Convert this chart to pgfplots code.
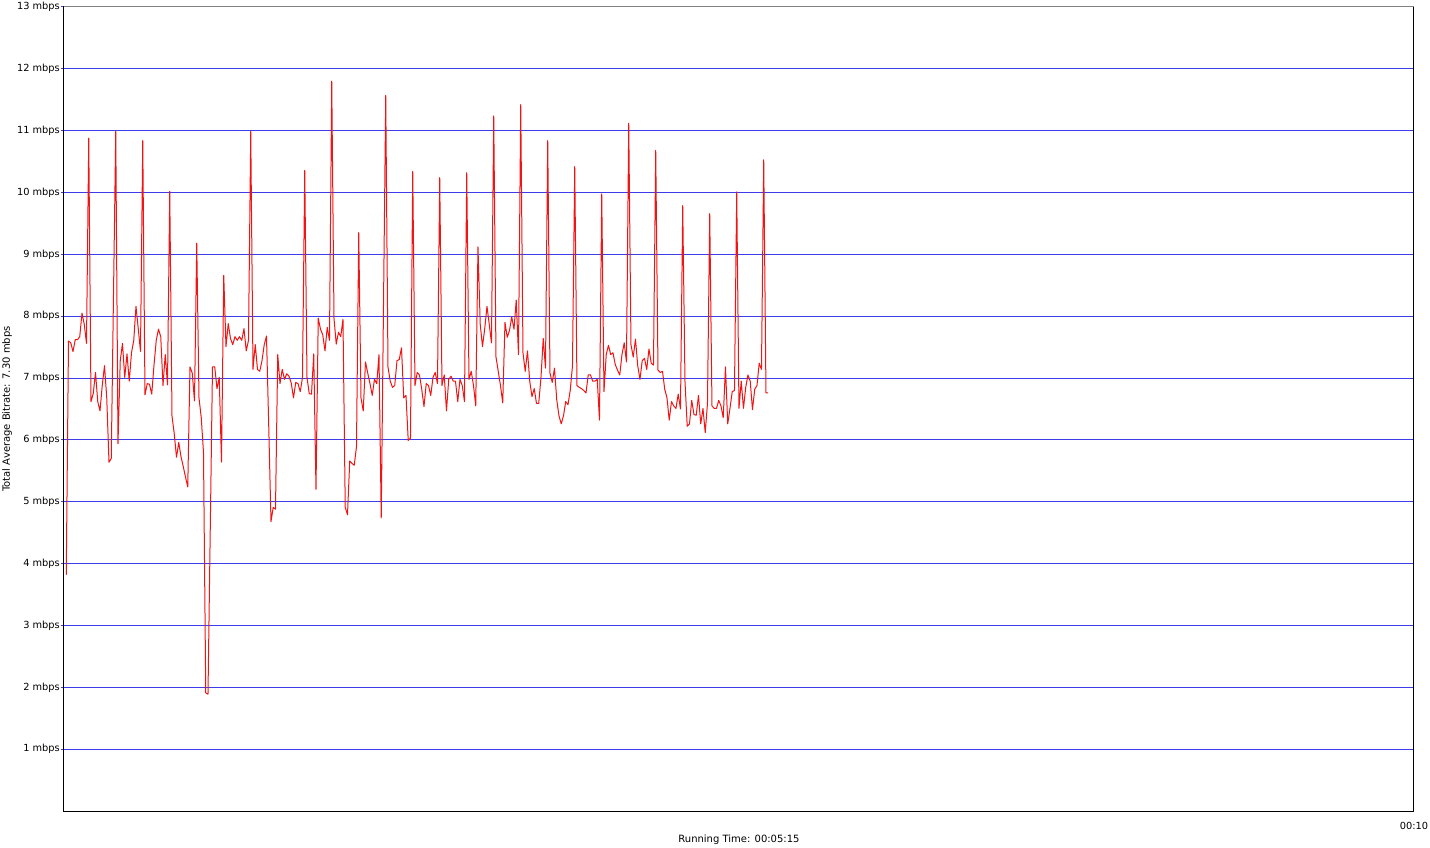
\documentclass[border=0pt]{standalone}
\usepackage{pgfplots}
\pgfplotsset{compat=1.18}
\usepackage{pgfplotstable}
\usepackage{fontspec}
\setmainfont{DejaVu Sans}
\definecolor{gridblue}{RGB}{60,60,235}
\definecolor{linered}{RGB}{240,20,20}
\pgfplotstableread{
t v
1 3.82
2 7.6
3 7.57
4 7.43
5 7.62
6 7.62
7 7.67
8 8.05
9 7.87
10 7.56
11 10.88
12 6.62
13 6.75
14 7.09
15 6.62
16 6.47
17 6.88
18 7.2
19 6.68
20 5.64
21 5.7
23 10.99
24 5.94
25 7.28
26 7.56
27 7.01
28 7.39
29 6.95
30 7.41
31 7.61
32 8.16
33 7.8
34 7.43
35 10.84
36 6.73
37 6.91
38 6.9
39 6.74
40 7.21
41 7.61
42 7.79
43 7.67
44 6.88
45 7.38
46 6.89
47 10.02
48 6.39
49 6.1
50 5.72
51 5.96
52 5.73
53 5.57
54 5.4
55 5.24
56 7.18
57 7.08
58 6.63
59 9.18
60 6.68
61 6.36
62 5.8
63 1.91
64 1.89
66 7.18
67 7.18
68 6.83
69 7.01
70 5.64
71 8.66
72 7.51
73 7.88
74 7.64
75 7.54
76 7.67
77 7.61
78 7.67
79 7.61
80 7.8
81 7.44
82 7.61
83 10.99
84 7.14
85 7.54
86 7.14
87 7.11
88 7.28
89 7.54
90 7.68
91 6.22
92 4.68
93 4.91
94 4.88
95 7.38
96 6.91
97 7.14
98 6.98
99 7.07
100 7.03
101 6.92
102 6.68
103 6.93
104 6.91
105 6.78
106 7.01
107 10.36
108 7.01
109 6.75
110 6.74
111 7.39
112 5.2
113 7.97
114 7.79
115 7.7
116 7.44
117 7.82
118 7.61
119 11.8
120 7.97
121 7.55
122 7.74
123 7.67
124 7.95
125 4.91
126 4.79
127 5.66
128 5.62
129 5.59
130 5.89
131 9.35
132 6.68
133 6.47
134 7.26
135 7.08
136 6.91
137 6.72
138 6.98
139 6.91
140 7.38
141 4.74
143 11.57
144 7.18
145 6.95
146 6.85
147 6.88
148 7.28
149 7.3
150 7.49
151 6.68
152 6.72
153 5.99
154 6.03
155 10.34
156 6.88
157 7.09
158 7.05
159 6.82
160 6.54
161 6.91
162 6.88
163 6.72
164 7.01
165 7.09
166 6.91
167 10.24
168 6.88
169 7.05
170 6.47
171 6.98
172 7.03
173 6.95
174 6.95
175 6.62
176 6.98
177 6.88
178 6.62
179 10.32
180 6.98
181 7.11
182 6.88
183 6.55
184 9.12
185 7.87
186 7.51
187 7.8
188 8.16
189 7.87
190 7.57
191 11.24
192 7.34
193 7.11
194 6.88
195 6.6
196 7.9
197 7.66
198 7.77
199 7.99
200 7.79
201 8.26
202 7.38
203 11.42
204 7.41
205 7.11
206 7.44
207 6.95
208 6.7
209 6.83
210 6.59
211 6.59
212 7.01
213 7.64
214 7.16
215 10.84
216 7.08
217 6.93
218 7.16
219 6.65
220 6.39
221 6.26
222 6.39
223 6.62
224 6.57
225 6.8
226 7.2
227 10.42
228 6.88
229 6.85
230 6.83
231 6.8
232 6.76
233 7.05
234 7.05
235 6.95
236 6.95
237 6.98
238 6.32
239 9.98
240 6.78
241 7.38
242 7.53
243 7.38
244 7.41
245 7.22
246 7.13
247 7.05
248 7.38
249 7.57
250 7.26
251 11.12
252 7.54
253 7.34
254 7.63
255 7.2
256 6.98
257 7.28
258 7.32
259 7.14
260 7.47
261 7.24
262 7.21
263 10.68
264 7.13
265 7.09
266 7.11
267 6.82
268 6.68
269 6.32
270 6.62
271 6.55
272 6.51
273 6.74
274 6.5
275 9.79
276 6.95
277 6.22
278 6.26
279 6.64
280 6.41
281 6.4
282 6.72
283 6.26
284 6.51
285 6.12
286 6.59
287 9.66
288 6.55
289 6.51
290 6.51
291 6.64
292 6.55
293 6.36
294 7.18
295 6.26
296 6.51
297 6.78
298 6.8
299 10.01
300 6.51
301 6.95
302 6.51
303 6.85
304 7.05
305 6.95
306 6.49
307 6.82
308 6.88
309 7.24
310 7.14
311 10.53
312 6.76
313 6.76
}\bitrate
\begin{document}
\begin{tikzpicture}
\useasboundingbox (-64pt,-36pt) rectangle (1366pt,811pt);
\begin{axis}[
  at={(0pt,0pt)}, anchor=south west,
  scale only axis,
  width=1350pt, height=804pt,
  xmin=0, xmax=600, ymin=0, ymax=13,
  xtick={600}, xticklabels={00:10},
  ytick={1,2,...,13},
  yticklabel={\pgfmathprintnumber{\tick}~mbps},
  major tick length=3pt,
  tick align=outside,
  ytick pos=left,
  ytick style={gridblue, line width=1pt},
  xtick style={draw=none},
  ymajorgrids,
  major grid style={gridblue, line width=1pt},
  axis line style={black, line width=1pt},
  tick label style={font=\fontsize{9.8}{12}\selectfont},
  yticklabel style={anchor=east, inner sep=0pt, xshift=-1pt},
  xticklabel style={anchor=north, inner sep=0pt, yshift=-8pt},
  /pgf/number format/assume math mode=true,
  xlabel={Running Time: 00:05:15},
  ylabel={Total Average Bitrate: 7.30 mbps},
  label style={font=\fontsize{9.6}{12}\selectfont},
  every axis x label/.style={at={(axis description cs:0.5,0)}, anchor=center, yshift=-29pt},
  every axis y label/.style={at={(axis description cs:0,0.5)}, anchor=center, xshift=-57pt, rotate=90},
  clip=false,
]
\addplot[linered, line width=1pt, line join=round] table[x=t, y=v] {\bitrate};
\draw[gray, line width=1pt] (rel axis cs:0,1) -- (rel axis cs:1,1);
\end{axis}
\end{tikzpicture}
\end{document}
